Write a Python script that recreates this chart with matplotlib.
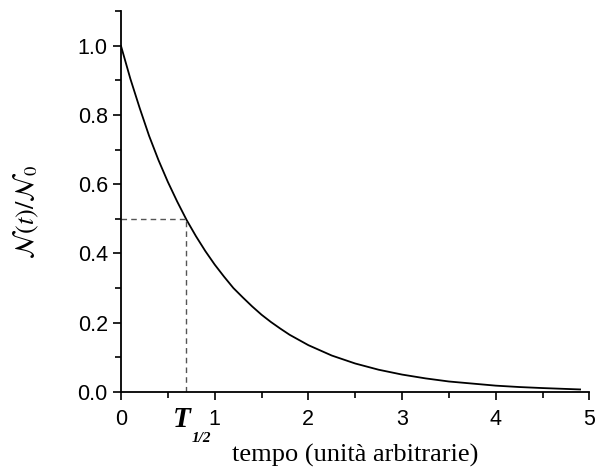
import matplotlib.pyplot as plt
from matplotlib.ticker import MultipleLocator
import matplotlib.transforms as mtransforms

# values
tempo = [0.0, 0.1, 0.2, 0.3, 0.4, 0.5, 0.6, 0.7, 0.8, 0.9, 1.0, 1.1, 1.2, 1.3, 1.4,
         1.5, 1.6, 1.7, 1.8, 1.9, 2.0, 2.25, 2.5, 2.75, 3.0, 3.25, 3.5, 3.75, 4.0,
         4.25, 4.5, 4.9]
frazione = [1.0, 0.905, 0.82, 0.74, 0.67, 0.607, 0.55, 0.497, 0.45, 0.407, 0.368,
            0.333, 0.30, 0.273, 0.247, 0.223, 0.202, 0.183, 0.165, 0.15, 0.135,
            0.105, 0.082, 0.064, 0.05, 0.039, 0.03, 0.024, 0.018, 0.014, 0.011,
            0.007]
t_half = 0.69
livello = 0.5

plt.rcParams['font.family'] = 'Liberation Sans'
plt.rcParams['mathtext.fontset'] = 'stix'

fig = plt.figure(figsize=(5.96, 4.71), dpi=100)
ax = fig.add_axes([0.203, 0.168, 0.786, 0.808])

ax.plot(tempo, frazione, color='black', lw=1.3)
ax.plot([0, t_half], [livello, livello], color='#555555', lw=1, ls=(0, (4, 3)))
ax.plot([t_half, t_half], [0, livello], color='#555555', lw=1, ls=(0, (4, 3)))

ax.set_xlim(0, 5)
ax.set_ylim(0, 1.1)
ax.spines['top'].set_visible(False)
ax.spines['right'].set_visible(False)
for s in ['left', 'bottom']:
    ax.spines[s].set_linewidth(1.3)

ax.xaxis.set_major_locator(MultipleLocator(1))
ax.xaxis.set_minor_locator(MultipleLocator(0.5))
ax.yaxis.set_minor_locator(MultipleLocator(0.1))
ax.set_yticks([0.0, 0.2, 0.4, 0.6, 0.8, 1.0])
ax.tick_params(which='major', direction='out', length=6, width=1.2, labelsize=15.5)
ax.tick_params(axis='x', which='major', pad=6)
ax.tick_params(which='minor', direction='out', length=4, width=1.2)
ax.yaxis.set_major_formatter(plt.FuncFormatter(lambda v, p: f'{v:.1f}'))

ax.set_xlabel('tempo (unità arbitrarie)', family='Liberation Serif', fontsize=19)
ax.xaxis.set_label_coords(0.5, -0.138)
ax.set_ylabel(r'$\mathcal{N}(t)/\mathcal{N}_{\mathit{0}}$', fontsize=19)
ax.yaxis.set_label_coords(-0.17, 0.472)

tr = mtransforms.blended_transform_factory(ax.transData, ax.transAxes)
ax.text(0.555, -0.092, 'T', transform=tr, ha='left', va='baseline',
        family='Liberation Serif', weight='bold', style='italic', fontsize=21)
ax.text(0.755, -0.131, '1/2', transform=tr, ha='left', va='baseline',
        family='Liberation Serif', weight='bold', style='italic', fontsize=11)

fig.savefig('out.png', dpi=100)
